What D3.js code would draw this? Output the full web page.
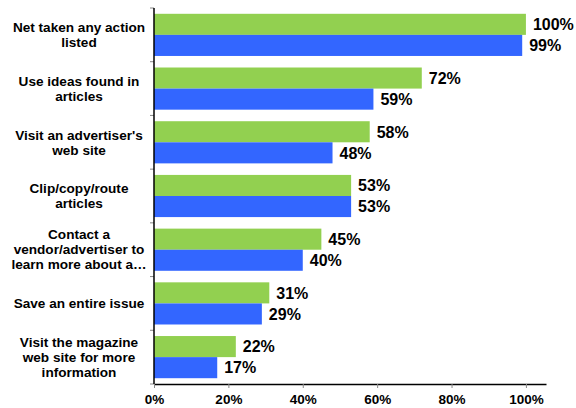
<!DOCTYPE html>
<html>
<head>
<meta charset="utf-8">
<script src="https://cdn.jsdelivr.net/npm/d3@7/dist/d3.min.js"></script>
<style>
  html, body { margin: 0; padding: 0; background: #fff; }
  svg { display: block; font-family: "Liberation Sans", Arial, sans-serif; }
</style>
</head>
<body>
<svg id="chart" width="576" height="408"></svg>
<script>
// Category labels (each entry is a list of wrapped lines)
const categories = [
  ["Net taken any action", "listed"],
  ["Use ideas found in", "articles"],
  ["Visit an advertiser's", "web site"],
  ["Clip/copy/route", "articles"],
  ["Contact a", "vendor/advertiser to", "learn more about a\u2026"],
  ["Save an entire issue"],
  ["Visit the magazine", "web site for more", "information"]
];
// Share of respondents, in percent
const series1 = [100, 72, 58, 53, 45, 31, 22];
const series2 = [99, 59, 48, 53, 40, 29, 17];
const xTicks = [0, 20, 40, 60, 80, 100];

const colors = ["#92D050", "#3366FF"];

const margin = { top: 8, left: 154, right: 30, bottom: 24 };
const width = 576, height = 408;
const svg = d3.select("#chart");

const x = d3.scaleLinear().domain([0, 105.4]).range([margin.left, width - margin.right]);
const y = d3.scaleBand().domain(d3.range(categories.length))
  .range([margin.top, height - margin.bottom]).paddingInner(0.215).paddingOuter(0.108);
const sub = d3.scaleBand().domain([0, 1]).range([0, y.bandwidth()]);

const rows = categories.map((c, i) => ({ i, vals: [series1[i], series2[i]] }));

const g = svg.append("g");
const row = g.selectAll("g.row").data(rows).join("g")
  .attr("class", "row")
  .attr("transform", d => `translate(0,${y(d.i)})`);

row.selectAll("rect").data(d => d.vals.map((v, k) => ({ v, k }))).join("rect")
  .attr("x", x(0))
  .attr("y", d => sub(d.k))
  .attr("width", d => x(d.v) - x(0))
  .attr("height", sub.bandwidth())
  .attr("fill", d => colors[d.k]);

row.selectAll("text.val").data(d => d.vals.map((v, k) => ({ v, k }))).join("text")
  .attr("class", "val")
  .attr("x", d => x(d.v) + 7)
  .attr("y", d => sub(d.k) + sub.bandwidth() / 2)
  .attr("dy", "0.36em")
  .attr("font-size", 16)
  .attr("font-weight", "bold")
  .attr("fill", "#000")
  .text(d => d.v + "%");

// Category labels, centred in the left margin
const lineH = 15;
g.selectAll("text.cat").data(categories).join("text")
  .attr("class", "cat")
  .attr("text-anchor", "middle")
  .attr("font-size", 13.6)
  .attr("font-weight", "bold")
  .attr("fill", "#000")
  .each(function (lines, i) {
    const cy = y(i) + y.bandwidth() / 2;
    const start = cy - (lines.length - 1) * lineH / 2;
    d3.select(this).selectAll("tspan").data(lines).join("tspan")
      .attr("x", 79)
      .attr("y", (l, j) => start + j * lineH)
      .attr("dy", "0.35em")
      .text(l => l);
  });

// Y axis: line with ticks at category boundaries
const yTop = margin.top, yBot = height - margin.bottom;
const bounds = d3.range(categories.length + 1).map(k => yTop + k * (yBot - yTop) / categories.length);
g.selectAll("line.ytick").data(bounds).join("line")
  .attr("x1", x(0) - 4).attr("x2", x(0))
  .attr("y1", d => d).attr("y2", d => d)
  .attr("stroke", "#888").attr("stroke-width", 1);
g.append("line")
  .attr("x1", x(0)).attr("x2", x(0)).attr("y1", yTop).attr("y2", yBot)
  .attr("stroke", "#000").attr("stroke-width", 1.5);

// X axis
const xAxis = d3.axisBottom(x).tickValues(xTicks).tickFormat(d => d + "%")
  .tickSizeInner(4).tickSizeOuter(0).tickPadding(6);
const xa = svg.append("g").attr("transform", `translate(0,${yBot})`).call(xAxis);
xa.select(".domain").attr("stroke", "#000").attr("stroke-width", 1.5);
xa.selectAll(".tick line").attr("stroke", "#888");
xa.selectAll(".tick text")
  .attr("font-size", 13.5).attr("font-weight", "bold").attr("fill", "#000")
  .attr("font-family", "Liberation Sans, Arial, sans-serif");
</script>
</body>
</html>
